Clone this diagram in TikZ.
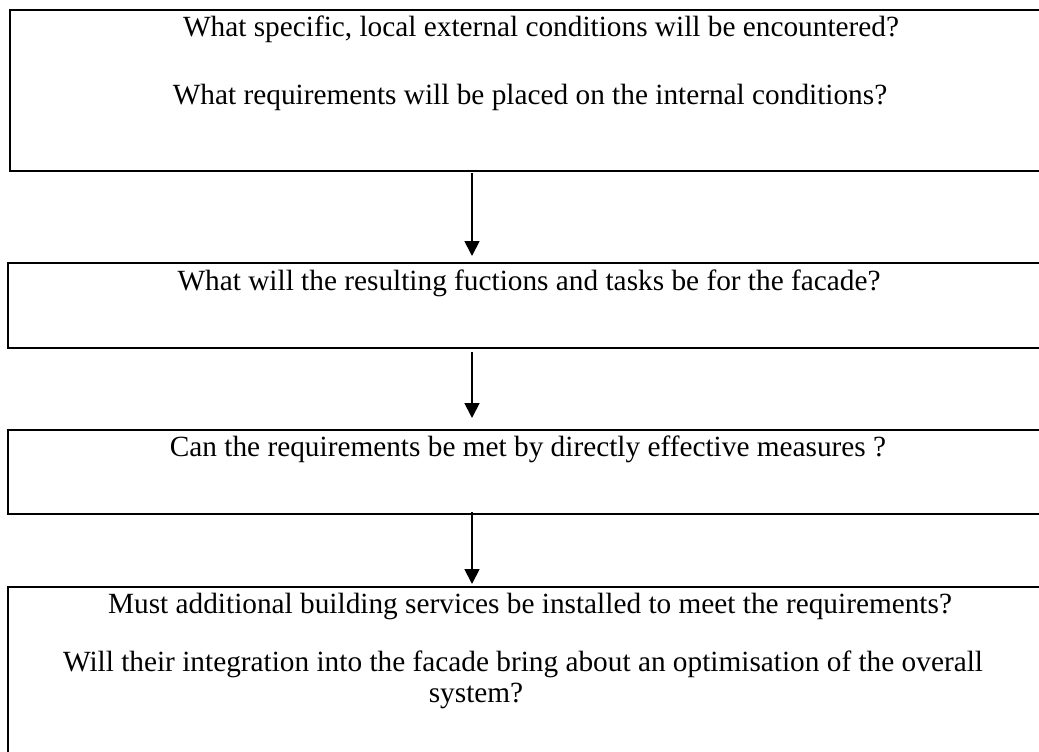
\documentclass[tikz,border=0pt]{standalone}
\usepackage{fontspec}
\setmainfont{Liberation Serif}
\usetikzlibrary{arrows.meta}
\begin{document}
\begin{tikzpicture}[x=1pt,y=-1pt,
  box/.style={draw=black, line width=2.4pt},
  txt/.style={anchor=base, inner sep=0pt, font=\fontsize{29.3}{34}\selectfont},
  arr/.style={line width=1.8pt, -{Triangle[length=15pt,width=15pt]}}]
\useasboundingbox (0,0) rectangle (1039,752);
\clip (0,0) rectangle (1039,752);
\fill[white] (0,0) rectangle (1039,752);
% boxes
\draw[box] (10,10) rectangle (1090,171);
\draw[box] (8,263) rectangle (1090,348);
\draw[box] (8,430) rectangle (1090,514);
\draw[box] (8,587) rectangle (1090,780);
\node (b1) at (549,90.5) [minimum width=1080pt, minimum height=161pt, inner sep=0pt] {};
\node (b2) at (549,305.5) [minimum width=1082pt, minimum height=85pt, inner sep=0pt] {};
\node (b3) at (549,472) [minimum width=1082pt, minimum height=84pt, inner sep=0pt] {};
\node (b4) at (549,683.5) [minimum width=1082pt, minimum height=193pt, inner sep=0pt] {};
% texts
\node[txt] (t1) at (541,37) {What specific, local external conditions will be encountered?};
\node[txt] (t2) at (530,104) {What requirements will be placed on the internal conditions?};
\node[txt] (t3) at (529,290) {What will the resulting fuctions and tasks be for the facade?};
\node[txt] (t4) at (528,456) {Can the requirements be met by directly effective measures ?};
\node[txt] (t5) at (530,613) {Must additional building services be installed to meet the requirements?};
\node[txt] (t6) at (523,671) {Will their integration into the facade bring about an optimisation of the overall};
\node[txt] (t7) at (476,702) {system?};
% arrows
\coordinate (a1s) at (472,173);
\coordinate (a1e) at (472,256);
\coordinate (a2s) at (472,352);
\coordinate (a2e) at (472,418);
\coordinate (a3s) at (472,512);
\coordinate (a3e) at (472,584);
\draw[arr] (a1s) -- (a1e);
\draw[arr] (a2s) -- (a2e);
\draw[arr] (a3s) -- (a3e);
\end{tikzpicture}
\end{document}
